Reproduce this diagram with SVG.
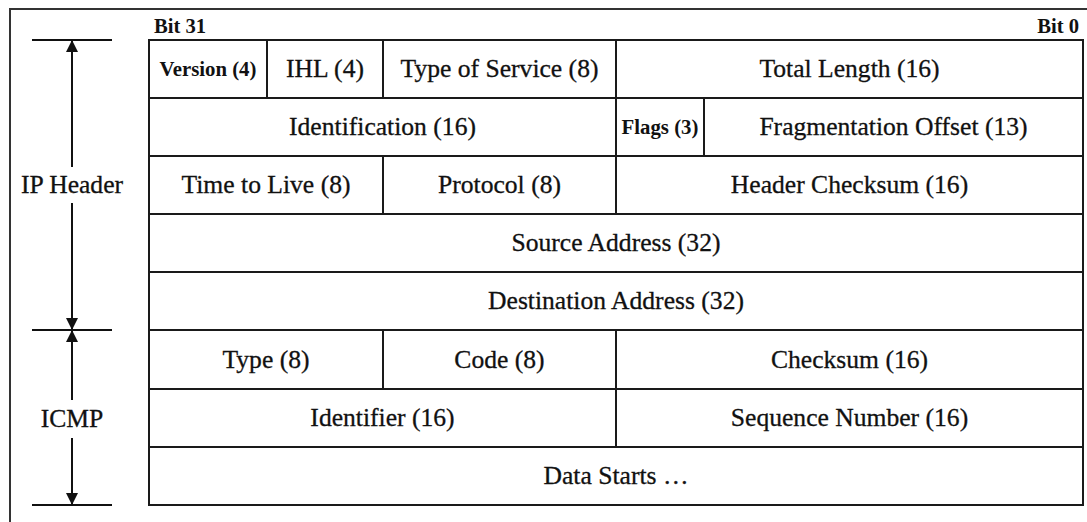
<svg xmlns="http://www.w3.org/2000/svg" width="1087" height="522" viewBox="0 0 1087 522">
  <style>
    .frame { stroke: #333; stroke-width: 2; fill: none; }
    .cell { fill: #fff; stroke: #1a1a1a; stroke-width: 2; }
    .t { font-family: "Liberation Serif", "Times New Roman", serif; font-size: 25.6px; fill: #111; stroke: #111; stroke-width: 0.3; text-anchor: middle; }
    .s { font-family: "Liberation Serif", "Times New Roman", serif; font-size: 20.8px; font-weight: bold; fill: #111; text-anchor: middle; }
    .bit { font-family: "Liberation Serif", "Times New Roman", serif; font-size: 20.6px; font-weight: bold; fill: #111; }
    .dim { stroke: #111; stroke-width: 2; fill: none; }
  </style>
  <defs>
    <marker id="arrow" markerUnits="userSpaceOnUse" markerWidth="12" markerHeight="12" refX="12" refY="6" orient="auto">
      <path d="M0,0 L12,6 L0,12 z" fill="#111"/>
    </marker>
  </defs>

  <rect width="1087" height="522" fill="#fff"/>

  <!-- outer frame (top and left edges) -->
  <path class="frame" d="M10,522 L10,9 L1087,9"/>

  <!-- bit order labels -->
  <text class="bit" x="154" y="33">Bit 31</text>
  <text class="bit" x="1079" y="33" text-anchor="end">Bit 0</text>

  <!-- row 0 -->
  <g id="version"><rect class="cell" x="149" y="40" width="118" height="58"/><text class="s" x="208" y="76">Version (4)</text></g>
  <g id="ihl"><rect class="cell" x="267" y="40" width="116" height="58"/><text class="t" x="325" y="77">IHL (4)</text></g>
  <g id="tos"><rect class="cell" x="383" y="40" width="233" height="58"/><text class="t" x="499.5" y="77">Type of Service (8)</text></g>
  <g id="total-length"><rect class="cell" x="616" y="40" width="467" height="58"/><text class="t" x="849.5" y="77">Total Length (16)</text></g>

  <!-- row 1 -->
  <g id="identification"><rect class="cell" x="149" y="98" width="467" height="58"/><text class="t" x="382.5" y="135">Identification (16)</text></g>
  <g id="flags"><rect class="cell" x="616" y="98" width="88" height="58"/><text class="s" x="660" y="134">Flags (3)</text></g>
  <g id="frag-offset"><rect class="cell" x="704" y="98" width="379" height="58"/><text class="t" x="893.5" y="135">Fragmentation Offset (13)</text></g>

  <!-- row 2 -->
  <g id="ttl"><rect class="cell" x="149" y="156" width="234" height="58"/><text class="t" x="266" y="193">Time to Live (8)</text></g>
  <g id="protocol"><rect class="cell" x="383" y="156" width="233" height="58"/><text class="t" x="499.5" y="193">Protocol (8)</text></g>
  <g id="header-checksum"><rect class="cell" x="616" y="156" width="467" height="58"/><text class="t" x="849.5" y="193">Header Checksum (16)</text></g>

  <!-- row 3 -->
  <g id="source"><rect class="cell" x="149" y="214" width="934" height="58"/><text class="t" x="616" y="251">Source Address (32)</text></g>

  <!-- row 4 -->
  <g id="destination"><rect class="cell" x="149" y="272" width="934" height="58"/><text class="t" x="616" y="309">Destination Address (32)</text></g>

  <!-- row 5 -->
  <g id="icmp-type"><rect class="cell" x="149" y="330" width="234" height="59"/><text class="t" x="266" y="368">Type (8)</text></g>
  <g id="icmp-code"><rect class="cell" x="383" y="330" width="233" height="59"/><text class="t" x="499.5" y="368">Code (8)</text></g>
  <g id="icmp-checksum"><rect class="cell" x="616" y="330" width="467" height="59"/><text class="t" x="849.5" y="368">Checksum (16)</text></g>

  <!-- row 6 -->
  <g id="identifier"><rect class="cell" x="149" y="389" width="467" height="58"/><text class="t" x="382.5" y="426">Identifier (16)</text></g>
  <g id="sequence"><rect class="cell" x="616" y="389" width="467" height="58"/><text class="t" x="849.5" y="426">Sequence Number (16)</text></g>

  <!-- row 7 -->
  <g id="data"><rect class="cell" x="149" y="447" width="934" height="58"/><text class="t" x="616" y="484">Data Starts …</text></g>

  <!-- section labels -->
  <g id="ip-header-label"><text class="t" x="72" y="193">IP Header</text></g>
  <g id="icmp-label"><text class="t" x="72" y="427">ICMP</text></g>

  <!-- dimension lines -->
  <g id="connectors">
    <line class="dim" x1="32" y1="40" x2="112" y2="40"/>
    <line class="dim" x1="32" y1="330" x2="112" y2="330"/>
    <line class="dim" x1="32" y1="505" x2="112" y2="505"/>
    <line class="dim" x1="72" y1="167" x2="72" y2="40" marker-end="url(#arrow)"/>
    <line class="dim" x1="72" y1="203" x2="72" y2="330" marker-end="url(#arrow)"/>
    <line class="dim" x1="72" y1="400" x2="72" y2="330" marker-end="url(#arrow)"/>
    <line class="dim" x1="72" y1="438" x2="72" y2="505" marker-end="url(#arrow)"/>
  </g>
</svg>
